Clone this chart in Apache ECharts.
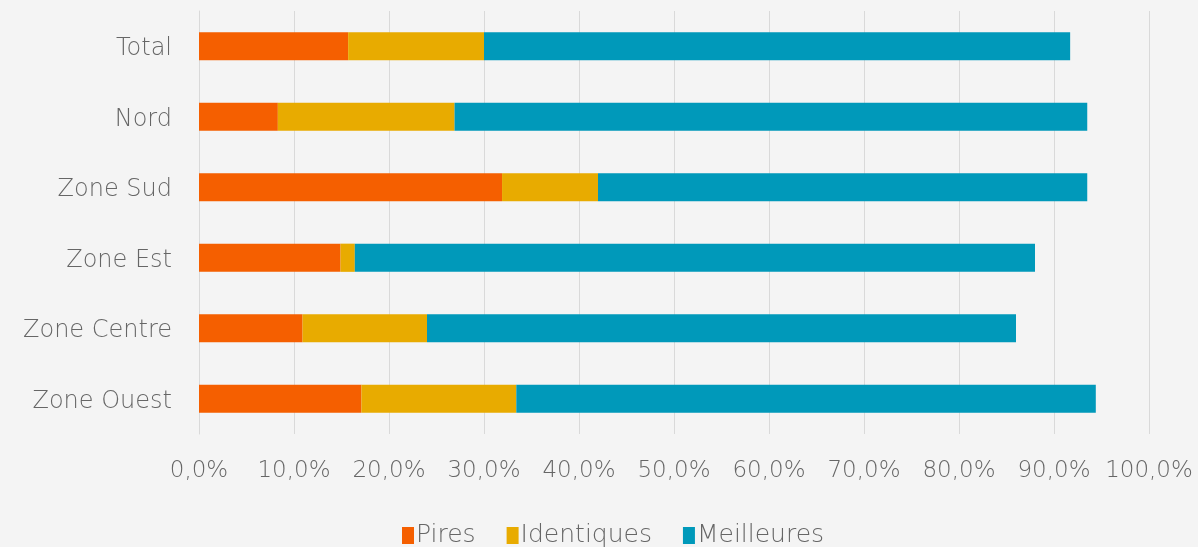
<!DOCTYPE html>
<html><head><meta charset="utf-8">
<script src="https://cdn.jsdelivr.net/npm/echarts@6/dist/echarts.min.js"></script>
<style>html,body{margin:0;padding:0;background:#f4f4f4;}#c{width:1198px;height:547px;}</style>
</head><body><div id="c"></div>
<script>
const categories = ['Total','Nord','Zone Sud','Zone Est','Zone Centre','Zone Ouest'];
const pires = [15.7, 8.3, 31.9, 14.9, 10.9, 17.1];
const identiques = [14.3, 18.6, 10.1, 1.5, 13.1, 16.3];
const meilleures = [61.7, 66.6, 51.5, 71.6, 62.0, 61.0];
const seriesNames = ['Pires','Identiques','Meilleures'];
const colors = ['#F55F00','#E8AB00','#0099BA'];
const font = '"DejaVu Sans", sans-serif';
const textColor = '#666666';
const chart = echarts.init(document.getElementById('c'));
const datasets = [pires, identiques, meilleures];
chart.setOption({
  backgroundColor: '#f4f4f4',
  animation: false,
  grid: {left: 199, right: 49, top: 11, bottom: 113, containLabel: false},
  legend: {
    top: 518, left: 397, itemWidth: 12, itemHeight: 17, itemGap: 31,
    icon: 'rect',
    textStyle: {color: textColor, fontSize: 25, fontWeight: 200, fontFamily: font, padding: [0,0,0,-3]},
    data: seriesNames
  },
  xAxis: {
    type: 'value', min: 0, max: 100, interval: 10,
    axisLabel: {formatter: v => v.toFixed(1).replace('.', ',') + '%', color: textColor, fontSize: 23, fontWeight: 200, fontFamily: font, margin: 26},
    splitLine: {show: true, lineStyle: {color: '#d9d9d9', width: 1}},
    axisLine: {show: false},
    axisTick: {show: false}
  },
  yAxis: {
    type: 'category', data: categories, inverse: true,
    axisLabel: {
      margin: 27,
      formatter: v => '{a|' + v + '}',
      rich: {a: {color: textColor, fontSize: 24, fontWeight: 200, fontFamily: font, padding: [6,0,0,0]}}
    },
    axisLine: {show: true, lineStyle: {color: '#d9d9d9'}},
    axisTick: {show: false}
  },
  series: seriesNames.map((n, i) => ({
    name: n, type: 'bar', stack: 'a', data: datasets[i],
    barCategoryGap: '60%',
    itemStyle: {color: colors[i]}
  }))
});
</script></body></html>
